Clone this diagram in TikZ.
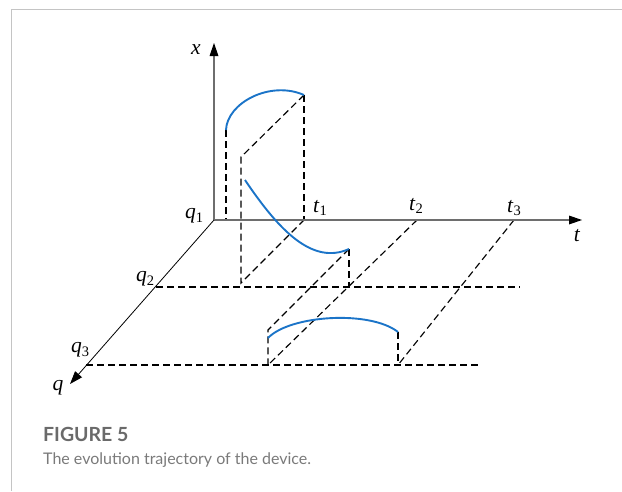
\documentclass[tikz,border=0pt]{standalone}
\usepackage{fontspec}
\setmainfont{Liberation Serif}
\newfontfamily\capfont{Lato}
\usetikzlibrary{arrows.meta,calc}
\definecolor{axisgray}{HTML}{6E6E6E}
\definecolor{curveblue}{HTML}{1B74C8}
\definecolor{framegray}{HTML}{C4C4C4}
\definecolor{capgray}{HTML}{6A6A6A}
\definecolor{txtgray}{HTML}{7A7A7A}
\newcommand{\lblsub}[2]{\textit{#1}\raisebox{-3.5pt}{\fontsize{14.5}{14.5}\selectfont #2}}
\tikzset{
  axisline/.style={draw=axisgray, line width=2pt},
  qaxis/.style={draw=black, line width=0.8pt, -{Triangle[length=13pt,width=9pt]}},
  guide/.style={draw=black, line width=1.15pt, dash pattern=on 7pt off 4pt},
  traj/.style={draw=curveblue, line width=1.9pt},
  lbl/.style={inner sep=0pt, font=\fontsize{21.5}{21.5}\selectfont},
}
\begin{document}
\begin{tikzpicture}[x=1pt,y=-1pt]
\useasboundingbox (0,0) rectangle (622,491);
% frame
\draw[framegray, line width=1pt] (11.3,491) -- (11.3,9.5) -- (622,9.5);
% coordinates
\coordinate (O) at (214,220);
\coordinate (Xtip) at (214,43);
\coordinate (Ttip) at (582,220);
\coordinate (Qtip) at (70,384);
\coordinate (T1) at (304,220);
\coordinate (T2) at (417,220);
\coordinate (T3) at (514,220);
\coordinate (Q2s) at (156,287);
\coordinate (Q2e) at (520,287);
\coordinate (Q3s) at (86,365);
\coordinate (Q3e) at (478,365);
\coordinate (A1) at (226,130);
\coordinate (A1b) at (226,220);
\coordinate (B1) at (304,95);
\coordinate (C1) at (241,157);
\coordinate (D1) at (241,283);
\coordinate (S2) at (245,180);
\coordinate (E) at (349,249);
\coordinate (Eb) at (349,287);
\coordinate (F) at (268,330);
\coordinate (G) at (268,365);
\coordinate (S3) at (268,338);
\coordinate (H3) at (398,332);
\coordinate (H) at (398,365);
% guides
\draw[guide] (Q2s) -- (Q2e);
\draw[guide] (Q3s) -- (Q3e);
\draw[guide] (A1) -- (A1b);
\draw[guide] (B1) -- (T1);
\draw[guide] (B1) -- (C1) -- (D1) -- (T1);
\draw[guide] (E) -- (Eb);
\draw[guide] (E) -- (F) -- (G);
\draw[guide] (T2) -- (G);
\draw[guide] (H3) -- (H);
\draw[guide] (T3) -- (H);
% axes
\draw[axisline] (O) -- ($(Xtip)+(0,12)$);
\draw[axisline] (O) -- ($(Ttip)+(-12,0)$);
\fill[black] (Xtip) -- ++(-4.5,13) -- ++(9,0) -- cycle;
\fill[black] (Ttip) -- ++(-13,-4.5) -- ++(0,9) -- cycle;
\draw[qaxis] (O) -- (Qtip);
% trajectories
\draw[traj] (A1) .. controls (227,103) and (270,80) .. (B1);
\draw[traj] (S2) .. controls (280,232) and (313,265) .. (E);
\draw[traj] (S3) .. controls (290,315) and (370,310) .. (H3);
% labels
\node[lbl] (lx) at (196,50) {\textit{x}};
\node[lbl] (lq1) at (194,216) {\lblsub{q}{1}};
\node[lbl] (lq2) at (145,279) {\lblsub{q}{2}};
\node[lbl] (lq3) at (80,350) {\lblsub{q}{3}};
\node[lbl] (lq) at (58,388) {\textit{q}};
\node[lbl] (lt1) at (320,208) {\lblsub{t}{1}};
\node[lbl] (lt2) at (416,206) {\lblsub{t}{2}};
\node[lbl] (lt3) at (514,208) {\lblsub{t}{3}};
\node[lbl] (lt) at (577,236) {\textit{t}};
% caption
\node[anchor=base west, inner sep=0pt, text=capgray, font=\capfont\bfseries\fontsize{19.5}{19.5}\selectfont] (cap1) at (43,441.5) {FIGURE 5};
\node[anchor=base west, inner sep=0pt, text=txtgray, font=\capfont\fontsize{16}{16}\selectfont] (cap2) at (43,464) {The evolution trajectory of the device.};
\end{tikzpicture}
\end{document}
